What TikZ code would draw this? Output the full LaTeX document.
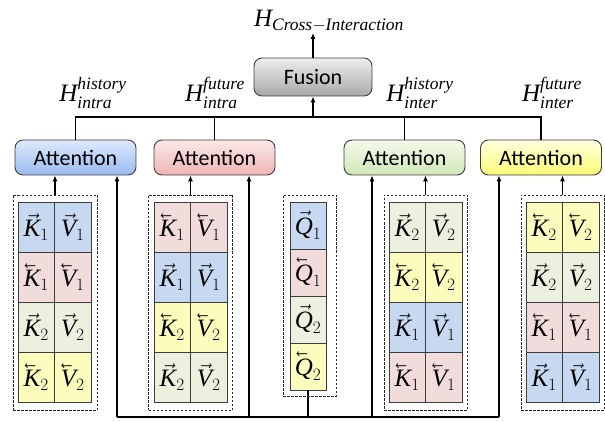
\documentclass[tikz,border=0pt]{standalone}
\usepackage{amsmath}
\usepackage{graphicx}
\usepackage{fontspec}
\setmainfont{Liberation Serif}
\newfontfamily\calib{Carlito}
\usetikzlibrary{arrows.meta}
\definecolor{color1}{RGB}{198,217,241}
\definecolor{color2}{RGB}{242,220,219}
\definecolor{color3}{RGB}{235,241,222}
\definecolor{color4}{RGB}{252,252,188}
\definecolor{linegray}{RGB}{60,60,60}

% arrows over the letters
\newcommand{\rv}[1]{\vec{#1}}
\newcommand{\lv}[1]{\reflectbox{$\vec{\reflectbox{$#1$}}$}}

% one row of a key/value block
\newcommand{\KVpair}[6]{%
  \node[cell, fill=#4] (#1k) at (#2,#3) {$#5{\textit{K}}_{#6}$};
  \node[cell, fill=#4] (#1v) at (#2+36.5,#3) {$#5{\textit{V}}_{#6}$};}

\begin{document}
\begin{tikzpicture}[x=1pt, y=-1pt]
  \tikzset{cell/.style      = {draw=linegray, line width=0.9pt,
                               minimum width=36.5pt, minimum height=50pt,
                               inner sep=0pt, outer sep=0pt,
                               font=\fontsize{25}{27}\selectfont},
           qcell/.style     = {cell, minimum width=36pt, minimum height=47pt},
           dashbox/.style   = {draw=black!85, dashed, dash pattern=on 2.5pt off 1.5pt,
                               line width=0.7pt, minimum width=84pt, minimum height=215pt,
                               inner sep=0pt, outer sep=0pt},
           attbox/.style    = {draw=linegray, line width=0.9pt, rounded corners=8pt,
                               minimum width=121pt, minimum height=35pt,
                               font=\calib\fontsize{22}{24}\selectfont},
           hlabel/.style    = {inner sep=1pt, font=\fontsize{25}{27}\selectfont},
           EdgeStyle/.style = {line width=1.1pt, black, >={Latex[length=6pt,width=5pt]}}}
  \useasboundingbox (0,0) rectangle (605,422);

% fusion and output
\node[attbox, minimum width=118pt, minimum height=38pt,
      top color={rgb,255:red,238;green,238;blue,238},
      bottom color={rgb,255:red,168;green,168;blue,168}] (fusion) at (313,77) {Fusion};
\node[hlabel] (hout) at (329,21) {$\textit{H}_{\textit{Cross}-\textit{Interaction}}$};

% attention blocks
\node[attbox, top color={rgb,255:red,222;green,233;blue,252},
      bottom color={rgb,255:red,152;green,186;blue,240}] (att1) at (75.5,157.5) {Attention};
\node[attbox, top color={rgb,255:red,251;green,232;blue,232},
      bottom color={rgb,255:red,239;green,180;blue,180}] (att2) at (214.5,157.5) {Attention};
\node[attbox, top color={rgb,255:red,245;green,250;blue,236},
      bottom color={rgb,255:red,208;green,231;blue,182}] (att3) at (404.5,157.5) {Attention};
\node[attbox, top color={rgb,255:red,255;green,255;blue,222},
      bottom color={rgb,255:red,252;green,252;blue,118}] (att4) at (541,157.5) {Attention};

% outputs of the attention blocks
\node[hlabel] (hintrahis) at (93,93)  {$\textit{H}^{\textit{history}}_{\textit{intra}}$};
\node[hlabel] (hintrafut) at (215,93) {$\textit{H}^{\textit{future}}_{\textit{intra}}$};
\node[hlabel] (hinterhis) at (420,93) {$\textit{H}^{\textit{history}}_{\textit{inter}}$};
\node[hlabel] (hinterfut) at (552,93) {$\textit{H}^{\textit{future}}_{\textit{inter}}$};

% group 1
\node[dashbox] (g1) at (55,302.5) {};
\KVpair{a1}{36.25}{227}{color1}{\rv}{1}
\KVpair{a2}{36.25}{277}{color2}{\lv}{1}
\KVpair{a3}{36.25}{327}{color3}{\rv}{2}
\KVpair{a4}{36.25}{377}{color4}{\lv}{2}

% group 2
\node[dashbox] (g2) at (190.5,302.5) {};
\KVpair{b1}{172.25}{227}{color2}{\lv}{1}
\KVpair{b2}{172.25}{277}{color1}{\rv}{1}
\KVpair{b3}{172.25}{327}{color4}{\lv}{2}
\KVpair{b4}{172.25}{377}{color3}{\rv}{2}

% queries
\node[dashbox, minimum width=53pt, minimum height=201pt] (gq) at (309.5,295.5) {};
\node[qcell, fill=color1] (q1) at (308,225.5) {$\rv{\textit{Q}}_{1}$};
\node[qcell, fill=color2] (q2) at (308,272.5) {$\lv{\textit{Q}}_{1}$};
\node[qcell, fill=color3] (q3) at (308,319.5) {$\rv{\textit{Q}}_{2}$};
\node[qcell, fill=color4] (q4) at (308,366.5) {$\lv{\textit{Q}}_{2}$};

% group 3
\node[dashbox, minimum width=83pt] (g3) at (425.5,302.5) {};
\KVpair{c1}{407.25}{227}{color3}{\rv}{2}
\KVpair{c2}{407.25}{277}{color4}{\lv}{2}
\KVpair{c3}{407.25}{327}{color1}{\rv}{1}
\KVpair{c4}{407.25}{377}{color2}{\lv}{1}

% group 4
\node[dashbox, minimum width=83pt] (g4) at (562.5,302.5) {};
\KVpair{d1}{544.25}{227}{color4}{\lv}{2}
\KVpair{d2}{544.25}{277}{color3}{\rv}{2}
\KVpair{d3}{544.25}{327}{color2}{\lv}{1}
\KVpair{d4}{544.25}{377}{color1}{\rv}{1}

% connectors
\coordinate (top) at (313,117);
\coordinate (bus1) at (117,417);
\coordinate (bus2) at (249,417);
\coordinate (bus3) at (372,417);
\coordinate (bus4) at (499,417);

\draw[EdgeStyle] (att1.north) -- (att1.north |- top) -- (att4.north |- top) -- (att4.north);
\draw[EdgeStyle] (att2.north) -- (att2.north |- top);
\draw[EdgeStyle] (att3.north) -- (att3.north |- top);
\draw[EdgeStyle, ->] (top) -- (fusion.south);
\draw[EdgeStyle, ->] (fusion.north) -- (fusion.north |- hout.south);

\draw[EdgeStyle, ->] (g1.north) -- (g1.north |- att1.south);
\draw[EdgeStyle, ->] (g2.north) -- (g2.north |- att2.south);
\draw[EdgeStyle, ->] (g3.north) -- (g3.north |- att3.south);
\draw[EdgeStyle, ->] (g4.north) -- (g4.north |- att4.south);

\draw[EdgeStyle] (q4.south) -- (q4.south |- bus1);
\draw[EdgeStyle] (bus1) -- (bus4);
\draw[EdgeStyle, ->] (bus1) -- (bus1 |- att1.south);
\draw[EdgeStyle, ->] (bus2) -- (bus2 |- att2.south);
\draw[EdgeStyle, ->] (bus3) -- (bus3 |- att3.south);
\draw[EdgeStyle, ->] (bus4) -- (bus4 |- att4.south);

\end{tikzpicture}
\end{document}
